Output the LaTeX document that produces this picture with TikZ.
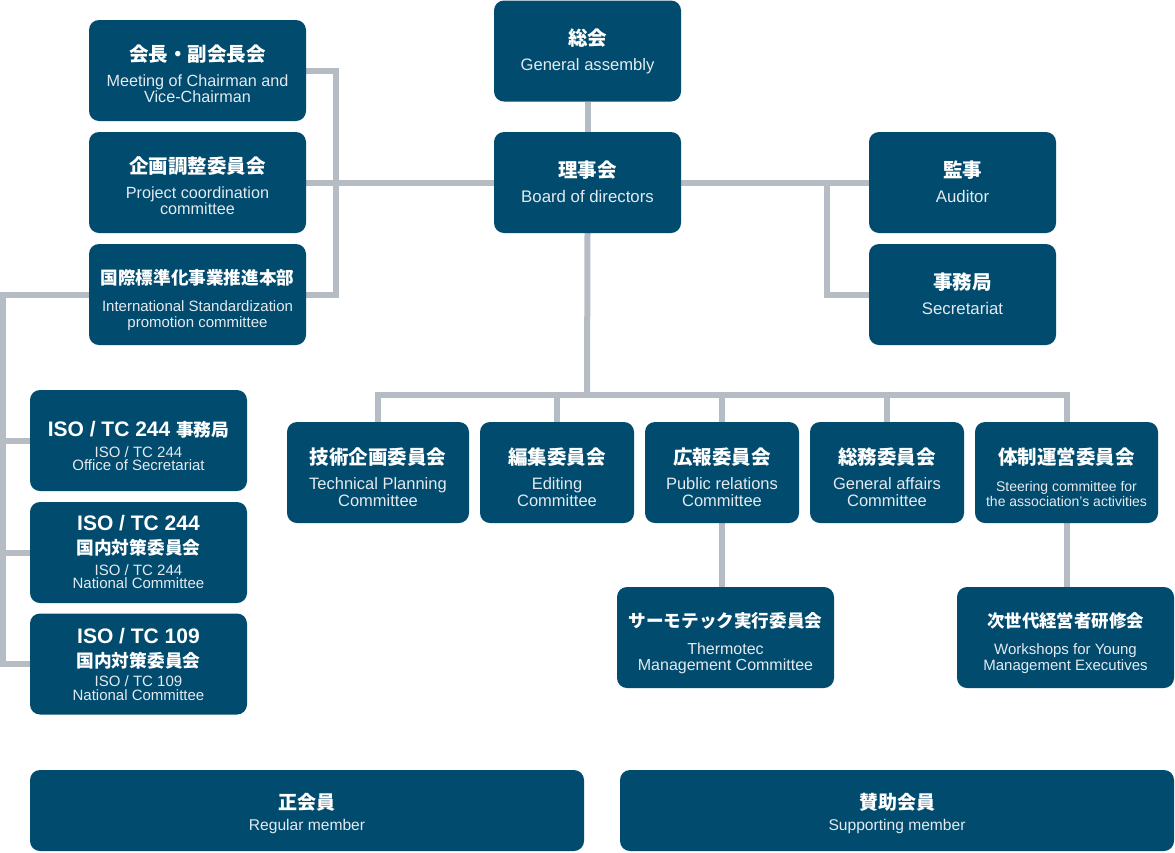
\documentclass[tikz,border=0pt]{standalone}
\usepackage{fontspec}
\setmainfont{Liberation Sans}
\newfontfamily\jp{Noto Sans CJK JP}
\usetikzlibrary{backgrounds}
\definecolor{boxblue}{RGB}{0,75,110}
\definecolor{linegray}{RGB}{181,188,196}
\definecolor{subwhite}{RGB}{228,234,239}
% #1 raise of first baseline above centre, #2 baselineskip, #3 rows
\newcommand{\oxStk}[3]{\raisebox{#1}[0pt][0pt]{\vtop{\baselineskip=#2\lineskiplimit=-100pt\lineskip=0pt\halign{\hfil##\hfil\cr#3\crcr}}}}
\newcommand{\oxGap}[1]{\noalign{\vskip#1}}
\newcommand{\oxJ}[2][19.5]{{\jp\bfseries\fontsize{#1pt}{#1pt}\selectfont #2}}
\newcommand{\oxE}[2][16]{{\color{subwhite}\fontsize{#1pt}{#1pt}\selectfont #2}}
\newcommand{\oxL}[2][21]{{\bfseries\fontsize{#1pt}{#1pt}\selectfont #2}}
\tikzset{
  orgbox/.style={draw=none, fill=boxblue, rounded corners=10pt, inner sep=0pt,
    text=white, minimum height=101pt},
  wA/.style={minimum width=217pt},
  wB/.style={minimum width=187pt},
  wC/.style={minimum width=154pt},
  wD/.style={minimum width=182pt},
  conn/.style={draw=linegray, line width=6pt, line join=miter},
}
\begin{document}
\begin{tikzpicture}[x=1pt, y=-1pt]
\useasboundingbox (0,0) rectangle (1175,852);
% left column
\node[orgbox, wA] (kaicho) at (197.5,70.5)
  {\oxStk{8.6pt}{16.7pt}{\oxJ{会長・副会長会}\cr\oxGap{7.4pt}\oxE[16.2]{Meeting of Chairman and}\cr\oxE[16.2]{Vice-Chairman}}};
\node[orgbox, wA] (kikaku) at (197.5,182.5)
  {\oxStk{9.5pt}{16.7pt}{\oxJ{企画調整委員会}\cr\oxGap{8.3pt}\oxE[16.2]{Project coordination}\cr\oxE[16.2]{committee}}};
\node[orgbox, wA] (kokusai) at (197.5,294.5)
  {\oxStk{10.3pt}{16.7pt}{\oxJ[17.6]{国際標準化事業推進本部}\cr\oxGap{10.1pt}\oxE[15]{International Standardization}\cr\oxE[15]{promotion committee}}};
% centre
\node[orgbox, wB] (sokai) at (587.5,51)
  {\oxStk{6pt}{17pt}{\oxJ{総会}\cr\oxGap{8pt}\oxE[16.6]{General assembly}}};
\node[orgbox, wB] (riji) at (587.5,182.5)
  {\oxStk{5.4pt}{17pt}{\oxJ{理事会}\cr\oxGap{8.6pt}\oxE[16.8]{Board of directors}}};
% right
\node[orgbox, wB] (kanji) at (962.5,182.5)
  {\oxStk{5.4pt}{17pt}{\oxJ{監事}\cr\oxGap{8.6pt}\oxE[16.8]{Auditor}}};
\node[orgbox, wB] (jimu) at (962.5,294.5)
  {\oxStk{5.2pt}{17pt}{\oxJ{事務局}\cr\oxGap{8pt}\oxE[16.8]{Secretariat}}};
% ISO column
\node[orgbox, wA] (iso1) at (138.5,440.5)
  {\oxStk{4.5pt}{13.5pt}{\oxL{ISO / TC 244 }\oxJ[17.7]{事務局}\cr\oxGap{7.8pt}\oxE[15]{ISO / TC 244}\cr\oxE[15]{Office of Secretariat}}};
\node[orgbox, wA] (iso2) at (138.5,552.5)
  {\oxStk{21.8pt}{13.5pt}{\oxL{ISO / TC 244}\cr\oxGap{10.7pt}\oxJ[17.7]{国内対策委員会}\cr\oxGap{6.6pt}\oxE[15]{ISO / TC 244}\cr\oxE[15]{National Committee}}};
\node[orgbox, wA] (iso3) at (138.5,664)
  {\oxStk{20.7pt}{13.5pt}{\oxL{ISO / TC 109}\cr\oxGap{10.2pt}\oxJ[17.7]{国内対策委員会}\cr\oxGap{6.2pt}\oxE[15]{ISO / TC 109}\cr\oxE[15]{National Committee}}};
% committee row
\node[orgbox, wD] (tech) at (378,472.5)
  {\oxStk{8.5pt}{17pt}{\oxJ{技術企画委員会}\cr\oxGap{8pt}\oxE[16.5]{Technical Planning}\cr\oxE[16.5]{Committee}}};
\node[orgbox, wC] (hen) at (557,472.5)
  {\oxStk{8.5pt}{17pt}{\oxJ{編集委員会}\cr\oxGap{8pt}\oxE[16.5]{Editing}\cr\oxE[16.5]{Committee}}};
\node[orgbox, wC] (koho) at (722,472.5)
  {\oxStk{8.5pt}{17pt}{\oxJ{広報委員会}\cr\oxGap{8pt}\oxE[16.5]{Public relations}\cr\oxE[16.5]{Committee}}};
\node[orgbox, wC] (somu) at (887,472.5)
  {\oxStk{8.5pt}{17pt}{\oxJ{総務委員会}\cr\oxGap{8pt}\oxE[16.5]{General affairs}\cr\oxE[16.5]{Committee}}};
\node[orgbox, minimum width=183pt] (taisei) at (1066.5,472.5)
  {\oxStk{7.8pt}{15pt}{\oxJ{体制運営委員会}\cr\oxGap{11.3pt}\oxE[14]{Steering committee for}\cr\oxE[14]{the association's activities}}};
% lower row
\node[orgbox, wA] (thermo) at (725.5,637.5)
  {\oxStk{9.8pt}{16.7pt}{\oxJ[17.6]{サーモテック実行委員会}\cr\oxGap{9.6pt}\oxE{Thermotec}\cr\oxE{Management Committee}}};
\node[orgbox, wA] (jisedai) at (1065.5,637.5)
  {\oxStk{10.4pt}{16.7pt}{\oxJ[17.4]{次世代経営者研修会}\cr\oxGap{10.2pt}\oxE[15]{Workshops for Young}\cr\oxE[15]{Management Executives}}};
% members
\node[orgbox, minimum width=554pt, minimum height=81pt] (seikai) at (307,810.5)
  {\oxStk{1.1pt}{17pt}{\oxJ[19]{正会員}\cr\oxGap{3.6pt}\oxE[15.6]{Regular member}}};
\node[orgbox, minimum width=554pt, minimum height=81pt] (sanjo) at (897,810.5)
  {\oxStk{1.1pt}{17pt}{\oxJ[19]{賛助会員}\cr\oxGap{3.6pt}\oxE[15.6]{Supporting member}}};
% junction points
\coordinate (brk) at (335.5,183);
\coordinate (lbr) at (3,400);
\coordinate (rbr) at (827,183);
\coordinate (hub) at (587,395);
\begin{scope}[on background layer]
  \draw[conn] (kaicho.east) -| (brk) |- (kokusai.east);
  \draw[conn] (kikaku.east) -- (riji.west);
  \draw[conn] (sokai.south) -- (riji.north);
  \draw[conn] (riji.east) -- (kanji.west);
  \draw[conn] (rbr) |- (jimu.west);
  \draw[conn] (kokusai.west) -| (lbr) |- (iso3.west);
  \draw[conn] (lbr |- iso1.west) -- (iso1.west);
  \draw[conn] (lbr |- iso2.west) -- (iso2.west);
  \draw[conn] (riji.south) -- (hub);
  \draw[conn] (tech.north) |- (hub) -| (taisei.north);
  \draw[conn] (hub -| hen.north) -- (hen.north);
  \draw[conn] (hub -| koho.north) -- (koho.north);
  \draw[conn] (hub -| somu.north) -- (somu.north);
  \draw[conn] (koho.south) -- (koho.south |- thermo.north);
  \draw[conn] (taisei.south) -- (taisei.south |- jisedai.north);
\end{scope}
\end{tikzpicture}
\end{document}
